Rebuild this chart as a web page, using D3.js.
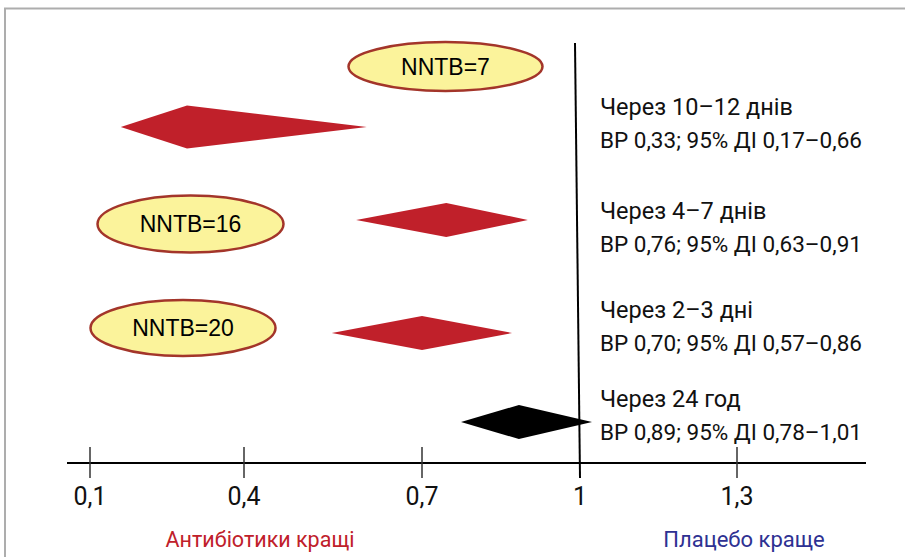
<!DOCTYPE html>
<html>
<head>
<meta charset="utf-8">
<script src="https://cdn.jsdelivr.net/npm/d3@7"></script>
<style>
  html, body { margin: 0; padding: 0; background: #fff; }
  svg { display: block; }
  .din { font-family: Roboto, "DejaVu Sans", sans-serif; }
  .nntb { font-family: "Liberation Sans", Arial, sans-serif; }
</style>
</head>
<body>
<svg id="chart"></svg>
<script>
// rows, top to bottom
const periods = ['Через 10–12 днів', 'Через 4–7 днів', 'Через 2–3 дні', 'Через 24 год'];
const statLabels = [
  'ВР 0,33; 95% ДІ 0,17–0,66',
  'ВР 0,76; 95% ДІ 0,63–0,91',
  'ВР 0,70; 95% ДІ 0,57–0,86',
  'ВР 0,89; 95% ДІ 0,78–1,01'
];
// diamond ends and centre as drawn in the picture
const lower = [0.160, 0.589, 0.548, 0.774];
const point = [0.289, 0.746, 0.700, 0.884];
const upper = [0.607, 0.901, 0.871, 1.023];

const nntbLabels = ['NNTB=7', 'NNTB=16', 'NNTB=20'];

const tickValues = [0.1, 0.4, 0.7, 1, 1.3];
const tickLabels = ['0,1', '0,4', '0,7', '1', '1,3'];

const width = 905;
const height = 557;
const red = '#c0202a';

const svg = d3.select('#chart')
  .attr('width', width)
  .attr('height', height);

// frame (top + left only, like the clipped box)
svg.append('path')
  .attr('d', 'M5,557 V8.5 H905')
  .attr('fill', 'none')
  .attr('stroke', '#adadad')
  .attr('stroke-width', 2);

// the original axis is not evenly spaced, so map each tick to its own spot
const x = d3.scaleLinear()
  .domain(tickValues)
  .range([90, 244, 422, 580, 737]);

// rows are not evenly spaced either
const rows = d3.range(periods.length);
const y = d3.scaleOrdinal().domain(rows).range([127, 220, 333, 422]);
const textY = d3.scaleOrdinal().domain(rows).range([115, 219, 318, 407]);

const axisY = 463;

// axis line
svg.append('line')
  .attr('x1', 67).attr('x2', 866)
  .attr('y1', axisY).attr('y2', axisY)
  .attr('stroke', '#000')
  .attr('stroke-width', 2);

const ticks = svg.append('g');
ticks.selectAll('line')
  .data(tickValues.filter(d => d !== 1))
  .enter().append('line')
  .attr('x1', d => x(d)).attr('x2', d => x(d))
  .attr('y1', axisY - 16).attr('y2', axisY + 15)
  .attr('stroke', '#333')
  .attr('stroke-width', 1.5);

ticks.selectAll('text')
  .data(tickValues)
  .enter().append('text')
  .attr('class', 'din')
  .attr('x', d => x(d))
  .attr('y', 505)
  .attr('text-anchor', 'middle')
  .attr('font-size', 25)
  .attr('fill', '#111')
  .text((d, i) => tickLabels[i]);

// line of no effect
svg.append('line')
  .attr('x1', x(1) - 5).attr('x2', x(1))
  .attr('y1', 43).attr('y2', axisY + 15)
  .attr('stroke', '#000')
  .attr('stroke-width', 2);

// diamonds
svg.append('g')
  .selectAll('path')
  .data(rows)
  .enter().append('path')
  .attr('d', i => {
    const h = i === 0 ? 21.5 : 17;
    const cy = y(i);
    return `M${x(lower[i])},${cy} L${x(point[i])},${cy - h} L${x(upper[i])},${cy} L${x(point[i])},${cy + h} Z`;
  })
  .attr('fill', i => i === rows.length - 1 ? '#000' : red);

// right-hand text
const labels = svg.append('g').attr('class', 'din').attr('fill', '#111');
labels.selectAll('text.period')
  .data(periods)
  .enter().append('text')
  .attr('class', 'period')
  .attr('x', 600)
  .attr('y', (d, i) => textY(i))
  .attr('font-size', 23.5)
  .text(d => d);
labels.selectAll('text.stat')
  .data(statLabels)
  .enter().append('text')
  .attr('class', 'stat')
  .attr('x', 600)
  .attr('y', (d, i) => textY(i) + 33)
  .attr('font-size', 22.5)
  .text(d => d);

// NNTB bubbles
const bubblePos = [
  { cx: 445.5, cy: 66.5, rx: 97, ry: 24.5 },
  { cx: 190.5, cy: 224, rx: 93, ry: 28.5 },
  { cx: 183, cy: 328, rx: 92.5, ry: 28 }
];
const bubbles = svg.append('g')
  .selectAll('g')
  .data(nntbLabels)
  .enter().append('g');
bubbles.append('ellipse')
  .attr('cx', (d, i) => bubblePos[i].cx)
  .attr('cy', (d, i) => bubblePos[i].cy)
  .attr('rx', (d, i) => bubblePos[i].rx)
  .attr('ry', (d, i) => bubblePos[i].ry)
  .attr('fill', '#fbf39b')
  .attr('stroke', '#a3352a')
  .attr('stroke-width', 2.5);
bubbles.append('text')
  .attr('class', 'nntb')
  .attr('x', (d, i) => bubblePos[i].cx)
  .attr('y', (d, i) => bubblePos[i].cy + 8)
  .attr('text-anchor', 'middle')
  .attr('font-size', 23)
  .attr('fill', '#000')
  .text(d => d);

// direction captions
svg.append('text')
  .attr('class', 'din')
  .attr('x', 260).attr('y', 547)
  .attr('text-anchor', 'middle')
  .attr('font-size', 21.5)
  .attr('fill', red)
  .text('Антибіотики кращі');
svg.append('text')
  .attr('class', 'din')
  .attr('x', 744).attr('y', 547)
  .attr('text-anchor', 'middle')
  .attr('font-size', 22)
  .attr('fill', '#2e3192')
  .text('Плацебо краще');
</script>
</body>
</html>
